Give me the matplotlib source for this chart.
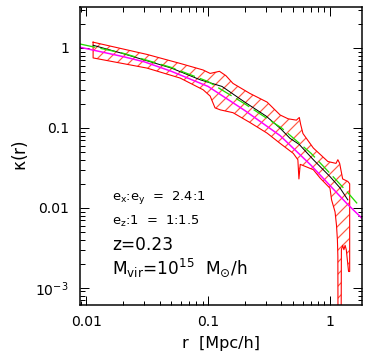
import matplotlib
matplotlib.use('Agg')
import matplotlib.pyplot as plt
from matplotlib.ticker import LogLocator, FixedLocator, FixedFormatter, NullFormatter

plt.rcParams['font.family'] = ['DejaVu Sans']
plt.rcParams['mathtext.fontset'] = 'dejavusans'
plt.rcParams['mathtext.default'] = 'regular'
plt.rcParams['hatch.linewidth'] = 1.2

# model profile (magenta)
mag_r = [0.0089, 0.02, 0.03, 0.05, 0.1, 0.2, 0.39, 0.7, 1.0, 1.4, 1.83]
mag_k = [1.02, 0.78, 0.67, 0.51, 0.33, 0.165, 0.08, 0.034, 0.019, 0.011, 0.0074]

# fit (green dashed)
grn_r = [0.0089, 0.02, 0.05, 0.1, 0.2, 0.4, 0.7, 1.0, 1.4, 1.7]
grn_k = [1.12, 0.86, 0.57, 0.38, 0.2, 0.1, 0.048, 0.027, 0.0155, 0.011]

# median (black)
med_r = [0.0114, 0.02, 0.05, 0.086, 0.13, 0.2, 0.3, 0.39, 0.47, 0.56, 0.73, 1.0, 1.2, 1.4]
med_k = [1.08, 0.85, 0.56, 0.40, 0.33, 0.21, 0.14, 0.099, 0.074, 0.062, 0.040, 0.0246, 0.018, 0.0126]

# scatter band (red hatched)
up_r = [0.0114, 0.0315, 0.059, 0.091, 0.104, 0.124, 0.14, 0.16, 0.22, 0.305, 0.39, 0.453,
        0.53, 0.56, 0.575, 0.6, 0.73, 0.96, 1.12, 1.16, 1.2, 1.27, 1.4, 1.45]
up_k = [1.18, 0.83, 0.64, 0.53, 0.48, 0.51, 0.45, 0.36, 0.27, 0.21, 0.145, 0.13,
        0.125, 0.135, 0.11, 0.085, 0.056, 0.038, 0.036, 0.04, 0.036, 0.023, 0.0214, 0.02]
lo_r = [0.0114, 0.0315, 0.059, 0.091, 0.104, 0.114, 0.126, 0.16, 0.22, 0.305, 0.39, 0.5,
        0.545, 0.556, 0.57, 0.73, 0.83, 1.0, 1.03, 1.1, 1.13, 1.15, 1.16, 1.165, 1.23,
        1.24, 1.27, 1.3, 1.33, 1.36, 1.42, 1.45]
lo_k = [0.75, 0.56, 0.42, 0.30, 0.25, 0.178, 0.168, 0.155, 0.117, 0.086, 0.064, 0.048,
        0.04, 0.023, 0.035, 0.030, 0.0236, 0.0176, 0.0126, 0.0089, 0.0061, 0.004, 0.0025,
        0.0001, 0.0001, 0.003, 0.0034, 0.003, 0.0034, 0.003, 0.0016, 0.0016]

fig = plt.figure(figsize=(368 / 72, 357 / 72), dpi=72)
ax = fig.add_axes([80 / 368, 1 - 305 / 357, 282 / 368, 298 / 357])

band_x = up_r + lo_r[::-1]
band_y = up_k + lo_k[::-1]
ax.fill(band_x, band_y, facecolor='none', edgecolor='#ff5a45', hatch='//', linewidth=0)
ax.plot(band_x + [up_r[0]], band_y + [up_k[0]], color='red', lw=1.1)

ax.plot(mag_r, mag_k, color='magenta', lw=1.5)
ax.plot(med_r, med_k, color='black', lw=1.0)
ax.plot(grn_r, grn_k, color='#22dd00', lw=1.3, dashes=(12, 4))

ax.set_xscale('log')
ax.set_yscale('log')
ax.set_xlim(0.0089, 1.83)
ax.set_ylim(6.1e-4, 3.25)

ax.xaxis.set_major_locator(FixedLocator([0.01, 0.1, 1]))
ax.xaxis.set_major_formatter(FixedFormatter(['0.01', '0.1', '1']))
ax.yaxis.set_major_locator(FixedLocator([0.001, 0.01, 0.1, 1]))
ax.yaxis.set_major_formatter(FixedFormatter([r'10$^{-3}$', '0.01', '0.1', '1']))
ax.xaxis.set_minor_locator(LogLocator(base=10, subs=range(2, 10)))
ax.yaxis.set_minor_locator(LogLocator(base=10, subs=range(2, 10)))
ax.xaxis.set_minor_formatter(NullFormatter())
ax.yaxis.set_minor_formatter(NullFormatter())

ax.tick_params(which='both', direction='in', top=True, right=True, labelsize=14, width=1.0)
ax.tick_params(which='major', length=9)
ax.tick_params(which='minor', length=4.5)
ax.tick_params(axis='x', which='major', pad=10)
ax.tick_params(axis='y', which='major', pad=11)
for s in ax.spines.values():
    s.set_linewidth(1.5)

ax.set_xlabel('r  [Mpc/h]', fontsize=16, labelpad=7)
ax.set_ylabel(r'$\kappa$(r)', fontsize=17, labelpad=5)

ax.text(0.113, 0.362, r'e$_x$:e$_y$  =  2.4:1', transform=ax.transAxes, fontsize=13, va='center')
ax.text(0.113, 0.282, r'e$_z$:1  =  1:1.5', transform=ax.transAxes, fontsize=13, va='center')
ax.text(0.113, 0.201, 'z=0.23', transform=ax.transAxes, fontsize=17, va='center')
ax.text(0.113, 0.124, r'M$_{vir}$=10$^{15}$  M$_{\odot}$/h', transform=ax.transAxes, fontsize=17, va='center')

fig.savefig('out.png', dpi=72)
